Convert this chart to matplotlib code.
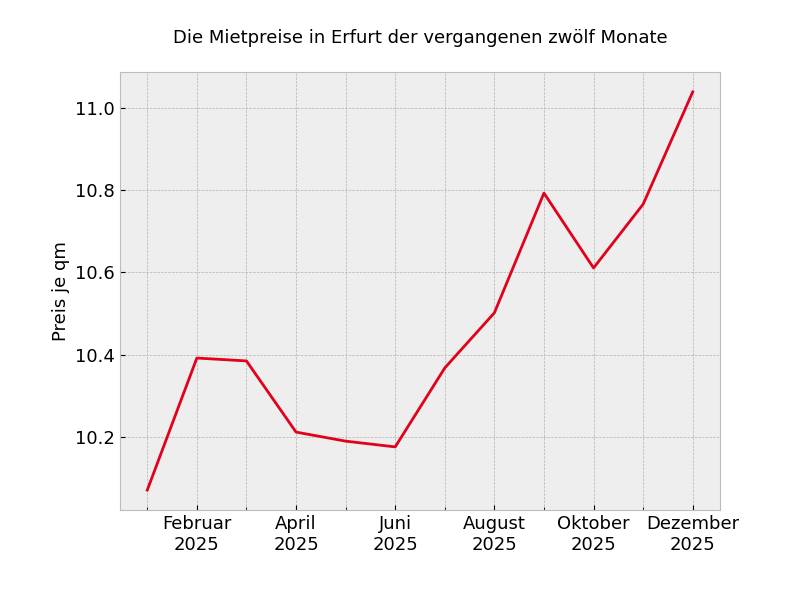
import numpy as np
import matplotlib.pyplot as plt
from matplotlib.ticker import MultipleLocator, FixedLocator

plt.style.use('bmh')

# monthly rent per square metre in Erfurt, 2025
month_names = ['Januar', 'Februar', 'März', 'April', 'Mai', 'Juni',
               'Juli', 'August', 'September', 'Oktober', 'November', 'Dezember']
year = 2025
prices = [10.071, 10.392, 10.385, 10.212, 10.190, 10.176,
          10.368, 10.502, 10.793, 10.611, 10.766, 11.039]

x = np.arange(len(month_names))

fig, ax = plt.subplots(figsize=(8, 6), dpi=100)
fig.subplots_adjust(left=0.15, right=0.9, bottom=0.15, top=0.88)

ax.plot(x, prices, color='#E2001A', linewidth=2)

# label every second month, minor tick on every month
major = x[1::2]
ax.xaxis.set_major_locator(FixedLocator(major))
ax.xaxis.set_minor_locator(MultipleLocator(1))
ax.set_xticklabels([f"{month_names[i]}\n{year}" for i in major])
ax.grid(True, which='both')

ax.tick_params(labelsize=13)
ax.set_ylabel('Preis je qm', fontsize=13)
ax.set_title('Die Mietpreise in Erfurt der vergangenen zwölf Monate', fontsize=13, pad=21)

plt.savefig('out.png')
